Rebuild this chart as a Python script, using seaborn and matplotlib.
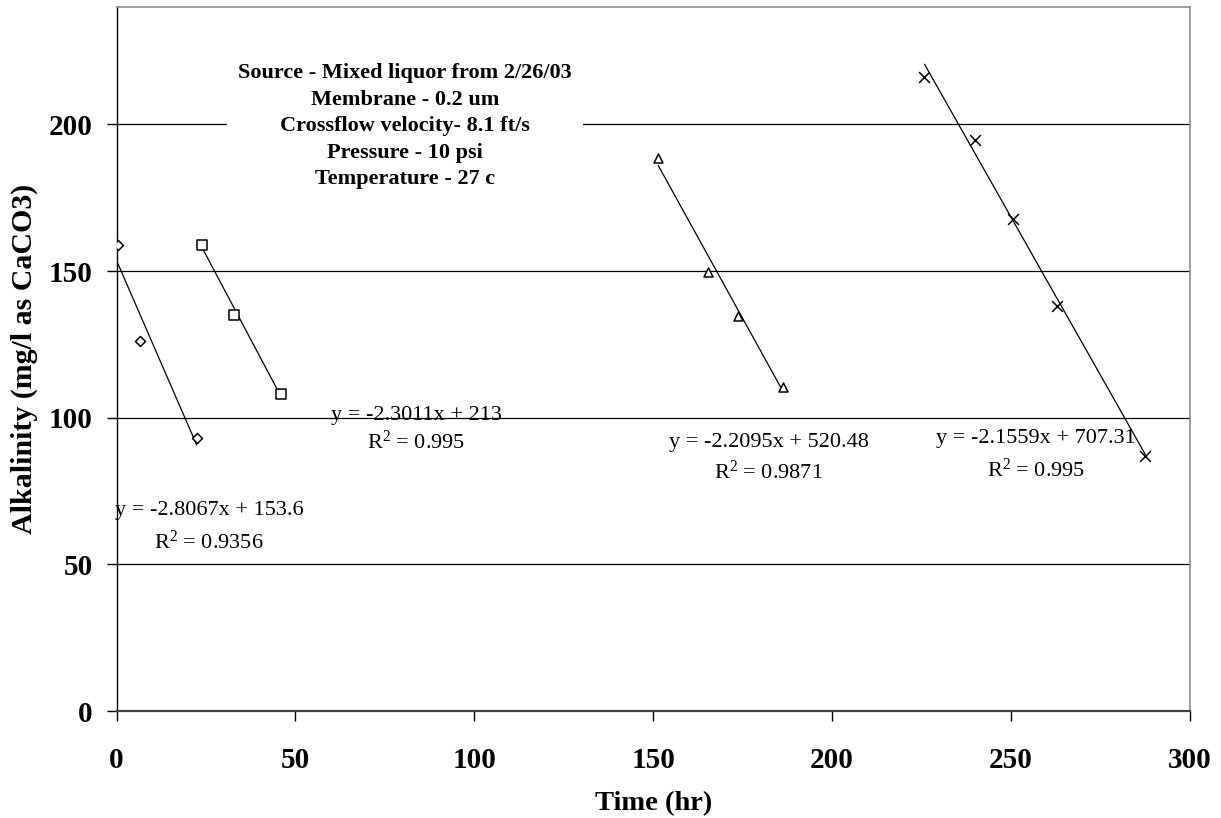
import numpy as np
import pandas as pd
import matplotlib
matplotlib.use("Agg")
import matplotlib.pyplot as plt
import seaborn as sns

# Alkalinity readings for four filtration runs
time_run1 = [0.4, 6.5, 22.4]
alk_run1 = [159, 126, 93]
time_run2 = [24.0, 32.9, 45.9]
alk_run2 = [159, 135, 108]
time_run3 = [151.4, 165.2, 173.8, 186.3]
alk_run3 = [188.5, 149.7, 134.5, 110.5]
time_run4 = [225.8, 239.9, 250.6, 262.9, 287.5]
alk_run4 = [216, 194.6, 167.6, 138.1, 87.1]

# Linear trendline coefficients and fit quality per run
slopes = [-2.8067, -2.3011, -2.2095, -2.1559]
intercepts = [153.6, 213, 520.48, 707.31]
r_squared = [0.9356, 0.995, 0.9871, 0.995]
eq_texts = ["y = -2.8067x + 153.6", "y = -2.3011x + 213",
            "y = -2.2095x + 520.48", "y = -2.1559x + 707.31"]
r2_texts = ["0.9356", "0.995", "0.9871", "0.995"]

x_ticks = [0, 50, 100, 150, 200, 250, 300]
y_ticks = [0, 50, 100, 150, 200]

conditions = ["Source - Mixed liquor from 2/26/03",
              "Membrane - 0.2 um",
              "Crossflow velocity- 8.1 ft/s",
              "Pressure - 10 psi",
              "Temperature - 27 c"]

sns.set_theme(style="white")
plt.rcParams["font.family"] = ["Liberation Serif", "DejaVu Serif"]
plt.rcParams["mathtext.fontset"] = "custom"
plt.rcParams["mathtext.rm"] = "Liberation Serif"
for key in ["text.color", "axes.labelcolor", "xtick.color", "ytick.color"]:
    plt.rcParams[key] = "black"

runs = [(time_run1, alk_run1, "D", 26),
        (time_run2, alk_run2, "s", 48),
        (time_run3, alk_run3, "^", 42),
        (time_run4, alk_run4, "x", 60)]

fig = plt.figure(figsize=(12.21, 8.18), dpi=100)
ax = fig.add_axes([116.5 / 1221, 1 - 711 / 818, (1190 - 116.5) / 1221, (711 - 7) / 818])

for i, (t, a, mk, size) in enumerate(runs):
    df = pd.DataFrame({"time": t, "alk": a})
    # fitted trendline across the span of the run
    fit = pd.DataFrame({"time": [min(t), max(t)]})
    fit["alk"] = slopes[i] * fit["time"] + intercepts[i]
    sns.lineplot(data=fit, x="time", y="alk", ax=ax, color="black",
                 linewidth=0.9, zorder=3)
    if mk == "x":
        sns.scatterplot(data=df, x="time", y="alk", ax=ax, marker=mk,
                        s=size, color="black", linewidth=1.1, zorder=4)
    else:
        sns.scatterplot(data=df, x="time", y="alk", ax=ax, marker=mk,
                        s=size, facecolor="white", edgecolor="black",
                        linewidth=1.1, zorder=4)

ax.set_xlim(0, 300)
ax.set_ylim(0, 240)
ax.set_xticks(x_ticks)
ax.set_yticks(y_ticks)
ax.set_xticklabels([str(v) for v in x_ticks], fontsize=21, fontweight="bold")
ax.set_yticklabels([str(v) for v in y_ticks], fontsize=21, fontweight="bold")
ax.tick_params(axis="both", direction="out", length=7, width=1, color="black",
               labelcolor="black", bottom=True, left=True)
ax.tick_params(axis="x", pad=19)
ax.tick_params(axis="y", pad=10)
ax.yaxis.grid(True, color="black", linewidth=0.9)
ax.xaxis.grid(False)
ax.set_axisbelow(True)

for side in ["top", "right"]:
    ax.spines[side].set_color("#8c8c8c")
    ax.spines[side].set_linewidth(1.2)
ax.spines["left"].set_color("black")
ax.spines["left"].set_linewidth(1.0)
ax.spines["bottom"].set_color("#404040")
ax.spines["bottom"].set_linewidth(1.6)

ax.set_xlabel("Time (hr)", fontsize=20.5, fontweight="bold", labelpad=12,
              color="black")
ax.set_ylabel("Alkalinity (mg/l as CaCO3)", fontsize=21.5, fontweight="bold",
              labelpad=8, color="black")

# trendline equations
eq_pos = [(25.9, 68.4, 57.5), (83.8, 100.7, 91.8),
          (182.3, 91.6, 81.3), (256.9, 92.8, 82.0)]
for (ex, ey, ry), eq, r2 in zip(eq_pos, eq_texts, r2_texts):
    ax.text(ex, ey, eq, ha="center", va="center", fontsize=16, zorder=5,
            color="black")
    ax.text(ex, ry, r"$\mathregular{R^{2}}$ = " + r2, ha="center", va="center",
            fontsize=16, zorder=5, color="black")

# operating conditions
ax.text(80.6, 199.4, "\n".join(conditions), ha="center", va="center",
        fontsize=16, fontweight="bold", linespacing=1.43, zorder=5,
        color="black",
        bbox=dict(boxstyle="square,pad=0.5", facecolor="white", edgecolor="none"))

fig.savefig("out.png", dpi=100)
